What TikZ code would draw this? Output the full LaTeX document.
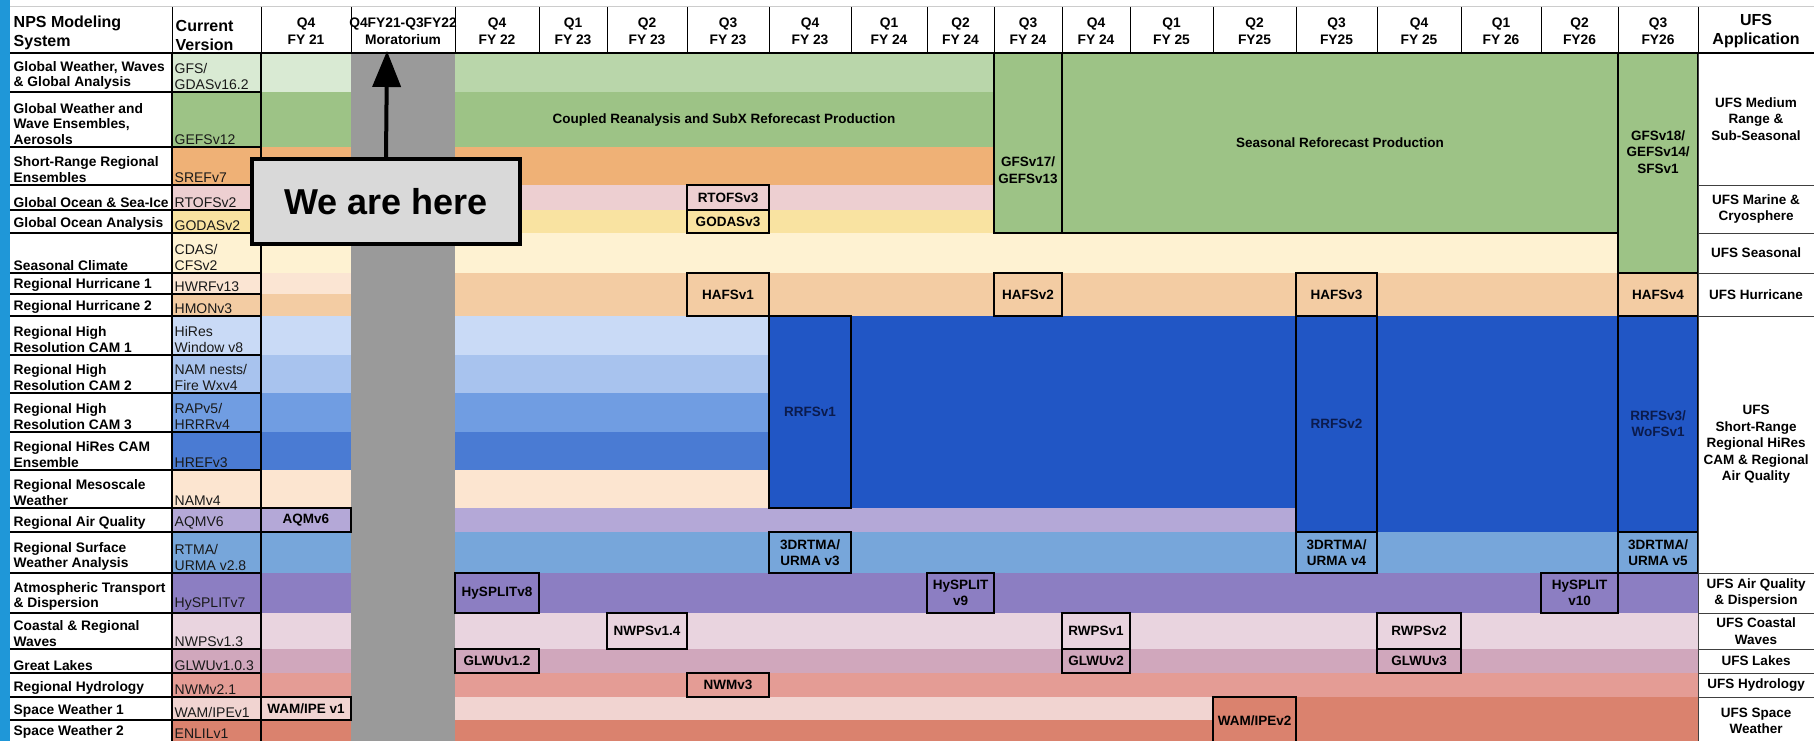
\documentclass[tikz,border=0pt]{standalone}
\usepackage{fontspec}
\setmainfont{Liberation Sans}
\usetikzlibrary{arrows.meta}

\definecolor{stripblue}{HTML}{1F97D8}
\definecolor{lgreenA}{HTML}{D9EAD3}
\definecolor{lgreenB}{HTML}{B9D6AA}
\definecolor{mgreen}{HTML}{9DC386}
\definecolor{orangeA}{HTML}{EFB176}
\definecolor{pinkA}{HTML}{EDCFD1}
\definecolor{yellowA}{HTML}{F9E3A1}
\definecolor{creamA}{HTML}{FEF2D2}
\definecolor{peachA}{HTML}{FBE5D3}
\definecolor{peachB}{HTML}{F3CCA3}
\definecolor{blueA}{HTML}{C9DAF6}
\definecolor{blueB}{HTML}{A8C3EE}
\definecolor{blueC}{HTML}{709DE2}
\definecolor{blueD}{HTML}{4A7BD3}
\definecolor{peachC}{HTML}{FCE5D0}
\definecolor{lavA}{HTML}{B4A8D7}
\definecolor{skyA}{HTML}{77A6DA}
\definecolor{purpA}{HTML}{8C7EC2}
\definecolor{mauveA}{HTML}{E9D4DF}
\definecolor{mauveB}{HTML}{D0A7BC}
\definecolor{salmonA}{HTML}{E49C95}
\definecolor{roseA}{HTML}{F1D4D1}
\definecolor{brickA}{HTML}{DA826E}
\definecolor{darkblue}{HTML}{2156C5}
\definecolor{navytext}{HTML}{0B1B4D}
\definecolor{moragrey}{HTML}{9A9A9A}
\definecolor{herebox}{HTML}{D9D9D9}

\begin{document}
\begin{tikzpicture}[x=1pt,y=-1pt,>={Triangle[length=36pt,width=28pt]},
    rowname/.style={anchor=south west,align=left,inner sep=2.5pt,font=\fontsize{13.8}{15.2}\selectfont\bfseries},
    version/.style={anchor=south west,align=left,inner sep=2.5pt,text=black!90,font=\fontsize{14}{15.5}\selectfont},
    head/.style={align=center,inner sep=0pt,font=\fontsize{13.8}{17}\selectfont\bfseries},
    bighead/.style={anchor=south west,align=left,inner sep=2.5pt,font=\fontsize{16}{19}\selectfont\bfseries},
    relbox/.style={draw=black,line width=2pt,inner sep=0pt,outer sep=0pt,align=center,font=\fontsize{13.5}{16}\selectfont\bfseries},
    boxtext/.style={align=center,inner sep=0pt,font=\fontsize{13.5}{16.5}\selectfont\bfseries},
    ufscell/.style={draw=black!75,line width=1pt,fill=white,inner sep=0pt,align=center,font=\fontsize{13.5}{16.5}\selectfont\bfseries},
    tableline/.style={line width=1.2pt,black}]
    \useasboundingbox (0,0) rectangle (1814,741);
    \fill[white] (0,0) rectangle (1814,741);
    \fill[stripblue] (0,0) rectangle (10,741);
    \draw[black!20,line width=1pt] (10,7) -- (1814,7);

    % current version and Q4 FY21 columns
    \fill[lgreenA] (172,53) rectangle (351,92);
    \fill[mgreen] (172,92) rectangle (351,147);
    \fill[orangeA] (172,147) rectangle (351,185);
    \fill[pinkA] (172,185) rectangle (351,210);
    \fill[yellowA] (172,210) rectangle (351,233);
    \fill[creamA] (172,233) rectangle (351,273);
    \fill[peachA] (172,273) rectangle (351,294);
    \fill[peachB] (172,294) rectangle (351,316);
    \fill[blueA] (172,316) rectangle (351,355);
    \fill[blueB] (172,355) rectangle (351,393);
    \fill[blueC] (172,393) rectangle (351,432);
    \fill[blueD] (172,432) rectangle (351,470);
    \fill[peachC] (172,470) rectangle (351,508);
    \fill[lavA] (172,508) rectangle (351,532);
    \fill[skyA] (172,532) rectangle (351,573);
    \fill[purpA] (172,573) rectangle (351,613);
    \fill[mauveA] (172,613) rectangle (351,649);
    \fill[mauveB] (172,649) rectangle (351,673);
    \fill[salmonA] (172,673) rectangle (351,697);
    \fill[roseA] (172,697) rectangle (351,720);
    \fill[brickA] (172,720) rectangle (351,741);

    % moratorium
    \fill[moragrey] (351,53) rectangle (455,741);

    % plan bands
    \fill[lgreenB] (455,53) rectangle (994,92);
    \fill[mgreen] (455,92) rectangle (994,147);
    \fill[orangeA] (455,147) rectangle (994,185);
    \fill[pinkA] (455,185) rectangle (994,210);
    \fill[yellowA] (455,210) rectangle (994,233);
    \fill[mgreen] (994,53) rectangle (1698,233);
    \fill[mgreen] (1618,233) rectangle (1698,273);
    \fill[creamA] (455,233) rectangle (1618,273);
    \fill[peachB] (455,273) rectangle (1698,316);
    \fill[blueA] (455,316) rectangle (769,355);
    \fill[blueB] (455,355) rectangle (769,393);
    \fill[blueC] (455,393) rectangle (769,432);
    \fill[blueD] (455,432) rectangle (769,470);
    \fill[peachC] (455,470) rectangle (769,508);
    \fill[darkblue] (769,316) rectangle (1698,508);
    \fill[darkblue] (1296,508) rectangle (1698,532);
    \fill[lavA] (455,508) rectangle (1296,532);
    \fill[skyA] (455,532) rectangle (1698,573);
    \fill[purpA] (455,573) rectangle (1698,613);
    \fill[mauveA] (455,613) rectangle (1698,649);
    \fill[mauveB] (455,649) rectangle (1698,673);
    \fill[salmonA] (455,673) rectangle (1698,697);
    \fill[roseA] (455,697) rectangle (1213,720);
    \fill[brickA] (1213,697) rectangle (1698,720);
    \fill[brickA] (455,720) rectangle (1698,741);

    \node[boxtext] (coupled) at (724,120) {Coupled Reanalysis and SubX Reforecast Production};

    % system names
    \node[rowname] (sysglobal) at (11,92) {Global Weather, Waves\\\& Global Analysis};
    \node[rowname] (sysens) at (11,147) {Global Weather and\\Wave Ensembles,\\Aerosols};
    \node[rowname] (syssref) at (11,185) {Short-Range Regional\\Ensembles};
    \node[rowname] (sysocean) at (11,210) {Global Ocean \& Sea-Ice};
    \node[rowname] (sysgodas) at (11,233) {Global Ocean Analysis};
    \node[rowname] (sysseasonal) at (11,273) {Seasonal Climate};
    \node[rowname] (syshurone) at (11,294) {Regional Hurricane 1};
    \node[rowname] (syshurtwo) at (11,316) {Regional Hurricane 2};
    \node[rowname] (syscamone) at (11,355) {Regional High\\Resolution CAM 1};
    \node[rowname] (syscamtwo) at (11,393) {Regional High\\Resolution CAM 2};
    \node[rowname] (syscamthree) at (11,432) {Regional High\\Resolution CAM 3};
    \node[rowname] (syshref) at (11,470) {Regional HiRes CAM\\Ensemble};
    \node[rowname] (sysmeso) at (11,508) {Regional Mesoscale\\Weather};
    \node[rowname] (sysaq) at (11,532) {Regional Air Quality};
    \node[rowname] (syssurface) at (11,573) {Regional Surface\\Weather Analysis};
    \node[rowname] (systransport) at (11,613) {Atmospheric Transport\\\& Dispersion};
    \node[rowname] (syswaves) at (11,649) {Coastal \& Regional\\Waves};
    \node[rowname] (syslakes) at (11,673) {Great Lakes};
    \node[rowname] (syshydro) at (11,697) {Regional Hydrology};
    \node[rowname] (sysspaceone) at (11,720) {Space Weather 1};
    \node[rowname] (sysspacetwo) at (11,741) {Space Weather 2};

    % current versions
    \node[version] (vergfs) at (172,92) {GFS/\\GDASv16.2};
    \node[version] (vergefs) at (172,147) {GEFSv12};
    \node[version] (versref) at (172,185) {SREFv7};
    \node[version] (verrtofs) at (172,210) {RTOFSv2};
    \node[version] (vergodas) at (172,233) {GODASv2};
    \node[version] (vercfs) at (172,273) {CDAS/\\CFSv2};
    \node[version] (verhwrf) at (172,294) {HWRFv13};
    \node[version] (verhmon) at (172,316) {HMONv3};
    \node[version] (verhires) at (172,355) {HiRes\\Window v8};
    \node[version] (vernam) at (172,393) {NAM nests/\\Fire Wxv4};
    \node[version] (verrap) at (172,432) {RAPv5/\\HRRRv4};
    \node[version] (verhref) at (172,470) {HREFv3};
    \node[version] (vernamfour) at (172,508) {NAMv4};
    \node[version] (veraqm) at (172,532) {AQMV6};
    \node[version] (verrtma) at (172,573) {RTMA/\\URMA v2.8};
    \node[version] (verhysplit) at (172,613) {HySPLITv7};
    \node[version] (vernwps) at (172,649) {NWPSv1.3};
    \node[version] (verglwu) at (172,673) {GLWUv1.0.3};
    \node[version] (vernwm) at (172,697) {NWMv2.1};
    \node[version] (verwam) at (172,720) {WAM/IPEv1};
    \node[version] (verenlil) at (172,741) {ENLILv1};

    \draw[tableline] (172,53) -- (172,741) (261,53) -- (261,741)
        (10,92) -- (261,92) (10,147) -- (261,147) (10,185) -- (261,185) (10,210) -- (261,210)
        (10,233) -- (261,233) (10,273) -- (261,273) (10,294) -- (261,294) (10,316) -- (261,316)
        (10,355) -- (261,355) (10,393) -- (261,393) (10,432) -- (261,432) (10,470) -- (261,470)
        (10,508) -- (261,508) (10,532) -- (261,532) (10,573) -- (261,573) (10,613) -- (261,613)
        (10,649) -- (261,649) (10,673) -- (261,673) (10,697) -- (261,697) (10,720) -- (261,720);

    % implementations
    \node[relbox,minimum width=90,minimum height=24] (aqm) at (306,520) {AQMv6};
    \node[relbox,minimum width=90,minimum height=23] (wamone) at (306,708.5) {WAM/IPE v1};
    \node[relbox,minimum width=82,minimum height=25] (rtofs) at (728,197.5) {RTOFSv3};
    \node[relbox,minimum width=82,minimum height=23] (godas) at (728,221.5) {GODASv3};
    \node[relbox,minimum width=68,minimum height=180] (gfsseventeen) at (1028,143) {};
    \node[boxtext] (gfsseventeentext) at (1028,170) {GFSv17/\\GEFSv13};
    \node[relbox,minimum width=556,minimum height=180] (seasonal) at (1340,143) {Seasonal Reforecast Production};
    \node[relbox,minimum width=80,minimum height=220] (gfseighteen) at (1658,163) {};
    \node[boxtext] (gfseighteentext) at (1658,152) {GFSv18/\\GEFSv14/\\SFSv1};
    \node[relbox,minimum width=82,minimum height=43] (hafsone) at (728,294.5) {HAFSv1};
    \node[relbox,minimum width=68,minimum height=43] (hafstwo) at (1028,294.5) {HAFSv2};
    \node[relbox,minimum width=81,minimum height=43] (hafsthree) at (1336.5,294.5) {HAFSv3};
    \node[relbox,minimum width=80,minimum height=43] (hafsfour) at (1658,294.5) {HAFSv4};
    \node[relbox,text=navytext,minimum width=82,minimum height=192] (rrfsone) at (810,412) {RRFSv1};
    \node[relbox,text=navytext,minimum width=81,minimum height=216] (rrfstwo) at (1336.5,424) {RRFSv2};
    \node[relbox,text=navytext,minimum width=80,minimum height=216] (rrfsthree) at (1658,424) {RRFSv3/\\WoFSv1};
    \node[relbox,minimum width=82,minimum height=41] (rtmathree) at (810,552.5) {3DRTMA/\\URMA v3};
    \node[relbox,minimum width=81,minimum height=41] (rtmafour) at (1336.5,552.5) {3DRTMA/\\URMA v4};
    \node[relbox,minimum width=80,minimum height=41] (rtmafive) at (1658,552.5) {3DRTMA/\\URMA v5};
    \node[relbox,minimum width=84,minimum height=40] (hyspliteight) at (497,593) {HySPLITv8};
    \node[relbox,minimum width=67,minimum height=40] (hysplitnine) at (960.5,593) {HySPLIT\\v9};
    \node[relbox,minimum width=77,minimum height=40] (hysplitten) at (1579.5,593) {HySPLIT\\v10};
    \node[relbox,minimum width=80,minimum height=36] (nwps) at (647,631) {NWPSv1.4};
    \node[relbox,minimum width=68,minimum height=36] (rwpsone) at (1096,631) {RWPSv1};
    \node[relbox,minimum width=84,minimum height=36] (rwpstwo) at (1419,631) {RWPSv2};
    \node[relbox,minimum width=84,minimum height=24] (glwuone) at (497,661) {GLWUv1.2};
    \node[relbox,minimum width=68,minimum height=24] (glwutwo) at (1096,661) {GLWUv2};
    \node[relbox,minimum width=84,minimum height=24] (glwuthree) at (1419,661) {GLWUv3};
    \node[relbox,minimum width=82,minimum height=24] (nwm) at (728,685) {NWMv3};
    \node[relbox,minimum width=83,minimum height=48] (wamtwo) at (1254.5,721) {WAM/IPEv2};

    % UFS applications
    \node[ufscell,minimum width=116,minimum height=132] (ufsmedium) at (1756,119) {UFS Medium\\Range \&\\Sub-Seasonal};
    \node[ufscell,minimum width=116,minimum height=48] (ufsmarine) at (1756,209) {UFS Marine \&\\Cryosphere};
    \node[ufscell,minimum width=116,minimum height=40] (ufsseasonal) at (1756,253) {UFS Seasonal};
    \node[ufscell,minimum width=116,minimum height=43] (ufshurricane) at (1756,294.5) {UFS Hurricane};
    \node[ufscell,minimum width=116,minimum height=257] (ufsshort) at (1756,444.5) {UFS\\Short-Range\\Regional HiRes\\CAM \& Regional\\Air Quality};
    \node[ufscell,minimum width=116,minimum height=40] (ufsair) at (1756,593) {UFS Air Quality\\\& Dispersion};
    \node[ufscell,minimum width=116,minimum height=36] (ufscoastal) at (1756,631) {UFS Coastal\\Waves};
    \node[ufscell,minimum width=116,minimum height=24] (ufslakes) at (1756,661) {UFS Lakes};
    \node[ufscell,minimum width=116,minimum height=24] (ufshydro) at (1756,685) {UFS Hydrology};
    \node[ufscell,minimum width=116,minimum height=48] (ufsspace) at (1756,721) {UFS Space\\Weather};

    % header
    \draw[tableline] (10,53) -- (1814,53);
    \draw[line width=1pt] (172,7) -- (172,53) (261,7) -- (261,53) (351,7) -- (351,53) (455,7) -- (455,53)
        (539,7) -- (539,53) (607,7) -- (607,53) (687,7) -- (687,53) (769,7) -- (769,53)
        (851,7) -- (851,53) (927,7) -- (927,53) (994,7) -- (994,53) (1062,7) -- (1062,53)
        (1130,7) -- (1130,53) (1213,7) -- (1213,53) (1296,7) -- (1296,53) (1377,7) -- (1377,53)
        (1461,7) -- (1461,53) (1541,7) -- (1541,53) (1618,7) -- (1618,53) (1698,7) -- (1698,53);
    \node[bighead] (hsystem) at (11,53) {NPS Modeling\\System};
    \node[bighead] (hversion) at (173,53) {Current\\Version};
    \node[head] (hqfour) at (306,31.5) {Q4\\FY 21};
    \node[head] (hmoratorium) at (403,31.5) {Q4FY21-Q3FY22\\Moratorium};
    \node[head] (hqfive) at (497,31.5) {Q4\\FY 22};
    \node[head] (hqsix) at (573,31.5) {Q1\\FY 23};
    \node[head] (hqseven) at (647,31.5) {Q2\\FY 23};
    \node[head] (hqeight) at (728,31.5) {Q3\\FY 23};
    \node[head] (hqnine) at (810,31.5) {Q4\\FY 23};
    \node[head] (hqten) at (889,31.5) {Q1\\FY 24};
    \node[head] (hqeleven) at (960.5,31.5) {Q2\\FY 24};
    \node[head] (hqtwelve) at (1028,31.5) {Q3\\FY 24};
    \node[head] (hqthirteen) at (1096,31.5) {Q4\\FY 24};
    \node[head] (hqfourteen) at (1171.5,31.5) {Q1\\FY 25};
    \node[head] (hqfifteen) at (1254.5,31.5) {Q2\\FY25};
    \node[head] (hqsixteen) at (1336.5,31.5) {Q3\\FY25};
    \node[head] (hqseventeen) at (1419,31.5) {Q4\\FY 25};
    \node[head] (hqeighteen) at (1501,31.5) {Q1\\FY 26};
    \node[head] (hqnineteen) at (1579.5,31.5) {Q2\\FY26};
    \node[head] (hqtwenty) at (1658,31.5) {Q3\\FY26};
    \node[head,font=\fontsize{16}{19}\selectfont\bfseries] (hufs) at (1756,31.5) {UFS\\Application};

    % we are here
    \node[draw=black,fill=herebox,line width=3.2pt,minimum width=268,minimum height=85,font=\fontsize{36}{40}\selectfont\bfseries] (here) at (386,201.5) {We are here};
    \coordinate (moratop) at (387,51);
    \draw[->,line width=4pt] (here.north) -- (moratop);
\end{tikzpicture}
\end{document}
